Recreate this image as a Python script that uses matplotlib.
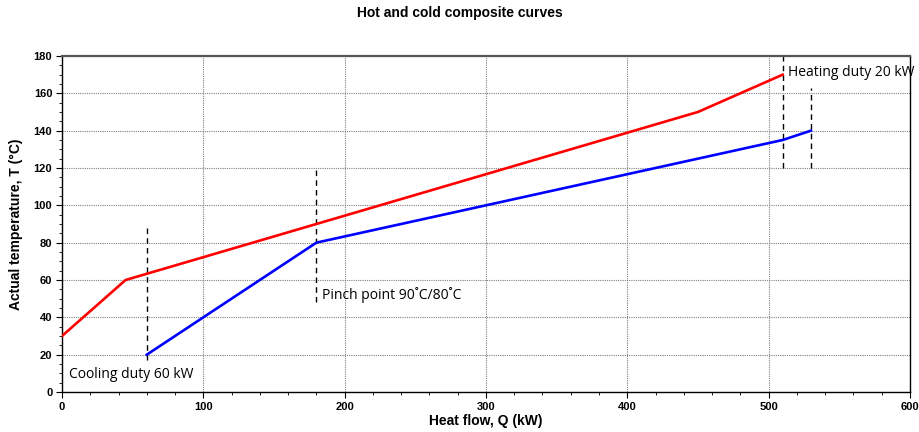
import matplotlib.pyplot as plt
from matplotlib.ticker import MultipleLocator

plt.rcParams['font.family'] = 'Liberation Sans'

# composite curve data (Q in kW, T in degC)
hot_q = [0, 45, 180, 450, 510]
hot_t = [30, 60, 90, 150, 170]
cold_q = [60, 180, 510, 530]
cold_t = [20, 80, 135, 140]

# dashed markers: (Q, T bottom, T top)
marker_q = [60, 180, 510, 530]
marker_lo = [17, 48, 120, 120]
marker_hi = [89, 121, 180, 163]

fig = plt.figure(figsize=(9.2, 4.32), dpi=100)
ax = fig.add_axes([0.0674, 0.0926, 0.9216, 0.7778])

ax.plot(hot_q, hot_t, color='#ff0000', linewidth=1.9, zorder=3)
ax.plot(cold_q, cold_t, color='#0000ff', linewidth=1.9, zorder=3)
ax.vlines(marker_q, marker_lo, marker_hi, colors='black', linestyles=(0, (4, 3)),
          linewidth=1.0, zorder=2)

ax.set_xlim(0, 600)
ax.set_ylim(0, 180)
ax.xaxis.set_major_locator(MultipleLocator(100))
ax.xaxis.set_minor_locator(MultipleLocator(20))
ax.yaxis.set_major_locator(MultipleLocator(20))
ax.yaxis.set_minor_locator(MultipleLocator(5))
ax.grid(True, which='major', color='#808080', linestyle=(0, (1, 1)), linewidth=0.8)
ax.tick_params(which='major', direction='out', length=4, labelsize=8, pad=3)
ax.tick_params(which='minor', direction='out', length=2)
plt.setp(ax.get_xticklabels() + ax.get_yticklabels(), fontweight='bold')

for s in ax.spines.values():
    s.set_linewidth(1.0)
ax.spines['top'].set_color('#555555')
ax.spines['top'].set_linewidth(1.6)

ax.set_xlabel('Heat flow, Q (kW)', fontsize=10, fontweight='bold', labelpad=2)
ax.set_ylabel('Actual temperature, T (°C)', fontsize=10, fontweight='bold', labelpad=8)
fig.suptitle('Hot and cold composite curves', fontsize=10, fontweight='bold', y=0.985)

ann = dict(fontsize=10, family='Open Sans', va='center')
ax.text(5, 9.5, 'Cooling duty 60 kW', **ann)
ax.text(184, 52, 'Pinch point 90˚C/80˚C', **ann)
ax.text(514, 171, 'Heating duty 20 kW', **ann)

fig.savefig('out.png', dpi=100)
